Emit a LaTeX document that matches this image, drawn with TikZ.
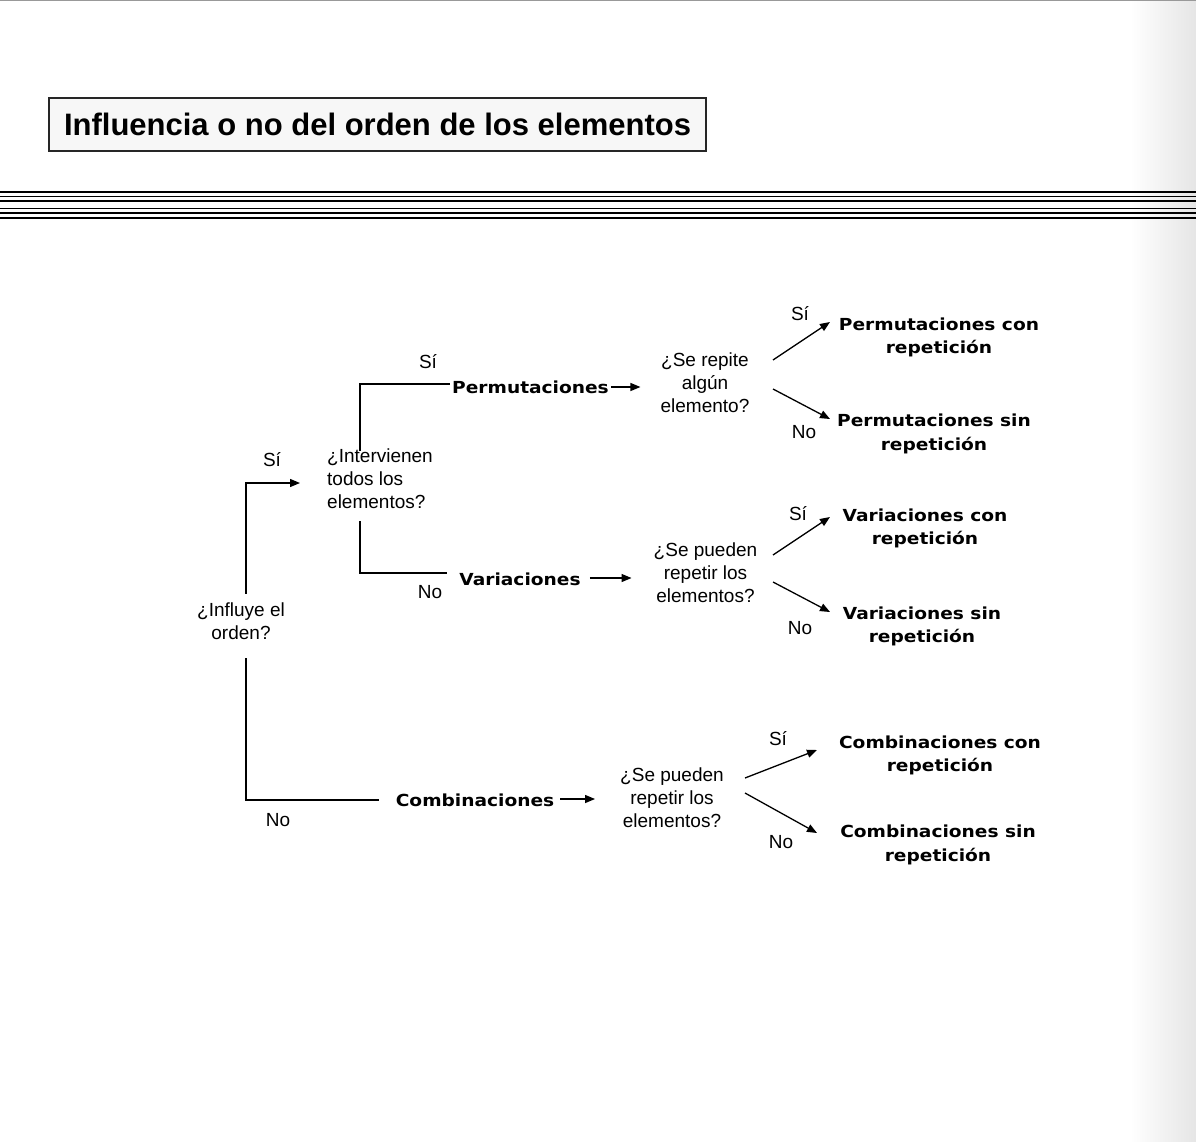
\documentclass[tikz,border=0pt]{standalone}
\usepackage{fontspec}
\setmainfont{Liberation Sans}
\newfontfamily\bwide[FakeStretch=1.12]{DejaVu Sans}
\usetikzlibrary{arrows.meta}
\tikzset{
  q/.style={font=\fontsize{19}{23}\selectfont, align=center, inner sep=0pt},
  res/.style={font=\bwide\bfseries\fontsize{16.6}{23.5}\selectfont, align=center, inner sep=0pt},
  lab/.style={font=\fontsize{19}{23}\selectfont, inner sep=0pt},
  ln/.style={line width=1.3pt},
  arr/.style={ln, -{Triangle[length=10pt,width=8pt]}},
  rule/.style={line width=#1}
}
\begin{document}
\begin{tikzpicture}[x=1pt,y=-1pt]
\useasboundingbox (0,0) rectangle (1196,1142);
\fill[white] (0,0) rectangle (1196,1142);
\shade[left color=white, right color=black!10] (1130,0) rectangle (1196,1142);
\draw[black!40, line width=1.5pt] (0,0.75) -- (1196,0.75);

% title
\node[draw=black!85, line width=1.2pt, fill=black!3, minimum width=657pt, minimum height=53pt, inner sep=0pt,
      font=\bfseries\fontsize{31}{36}\selectfont] (title) at (377.5,124.5) {Influencia o no del orden de los elementos};

% rules
\foreach \yy/\w in {192/1.8pt, 196.5/1.2pt, 201/2.2pt, 208.5/1.2pt, 213/2.2pt, 218/1.2pt}
  \draw[rule=\w] (0,\yy) -- (1196,\yy);

% questions
\node[q] (influye) at (241,621.5) {¿Influye el\\orden?};
\node[q, align=left, anchor=west] (interv) at (327,479) {¿Intervienen\\todos los\\elementos?};
\node[q] (srep) at (705,383) {¿Se repite\\algún\\elemento?};
\node[q] (vq) at (705.5,573) {¿Se pueden\\repetir los\\elementos?};
\node[q] (cq) at (672,798) {¿Se pueden\\repetir los\\elementos?};

% middle categories
\node[res] (perm) at (530.5,387) {Permutaciones};
\node[res] (var) at (520,579) {Variaciones};
\node[res] (comb) at (475,800) {Combinaciones};

% results
\node[res] (pcon) at (939,337.5) {Permutaciones con\\repetición};
\node[res] (psin) at (934,434) {Permutaciones sin\\repetición};
\node[res] (vcon) at (925,528.5) {Variaciones con\\repetición};
\node[res] (vsin) at (922,626.5) {Variaciones sin\\repetición};
\node[res] (ccon) at (940,755.5) {Combinaciones con\\repetición};
\node[res] (csin) at (938,845) {Combinaciones sin\\repetición};

% labels
\node[lab] (si1) at (272,460) {Sí};
\node[lab] (no1) at (278,820) {No};
\node[lab] (si2) at (428,362) {Sí};
\node[lab] (no2) at (430,592) {No};
\node[lab] (si3) at (800,314) {Sí};
\node[lab] (no3) at (804,432) {No};
\node[lab] (si4) at (798,514) {Sí};
\node[lab] (no4) at (800,628) {No};
\node[lab] (si5) at (778,739) {Sí};
\node[lab] (no5) at (781,842) {No};

% connectors from first question
\draw[arr, shorten <=9pt] ([xshift=5pt]influye.north) |- ([xshift=-27pt,yshift=-4pt]interv.west);
\draw[ln, shorten <=18pt] ([xshift=5pt]influye.south) |- ([xshift=-17pt]comb.west);

% brackets from second question
\draw[ln, shorten <=-2pt] ([xshift=33pt]interv.north west) |- ([xshift=-2pt,yshift=3pt]perm.west);
\draw[ln, shorten <=12pt] ([xshift=33pt]interv.south west) |- ([xshift=-12pt,yshift=6pt]var.west);

% arrows to questions
\draw[arr, shorten <=2pt, shorten >=20pt] (perm.east) -- (perm.east -| srep.west);
\draw[arr, shorten <=9pt, shorten >=22pt] ([yshift=1pt]var.east) -- ([yshift=1pt]var.east -| vq.west);
\draw[arr, shorten <=6pt, shorten >=25pt] ([yshift=1pt]comb.east) -- ([yshift=1pt]comb.east -| cq.west);

% diagonal arrows
\draw[arr] ([xshift=68pt,yshift=23pt]srep.center) -- ([xshift=-109pt,yshift=15.5pt]pcon.center);
\draw[arr] ([xshift=68pt,yshift=-6pt]srep.center) -- ([xshift=-104pt,yshift=15pt]psin.center);
\draw[arr] ([xshift=67.5pt,yshift=18pt]vq.center) -- ([xshift=-95pt,yshift=11.5pt]vcon.center);
\draw[arr] ([xshift=67.5pt,yshift=-9pt]vq.center) -- ([xshift=-92pt,yshift=14.5pt]vsin.center);
\draw[arr] ([xshift=73pt,yshift=20pt]cq.center) -- ([xshift=-123pt,yshift=5.5pt]ccon.center);
\draw[arr] ([xshift=73pt,yshift=5pt]cq.center) -- ([xshift=-121pt,yshift=12pt]csin.center);
\end{tikzpicture}
\end{document}
